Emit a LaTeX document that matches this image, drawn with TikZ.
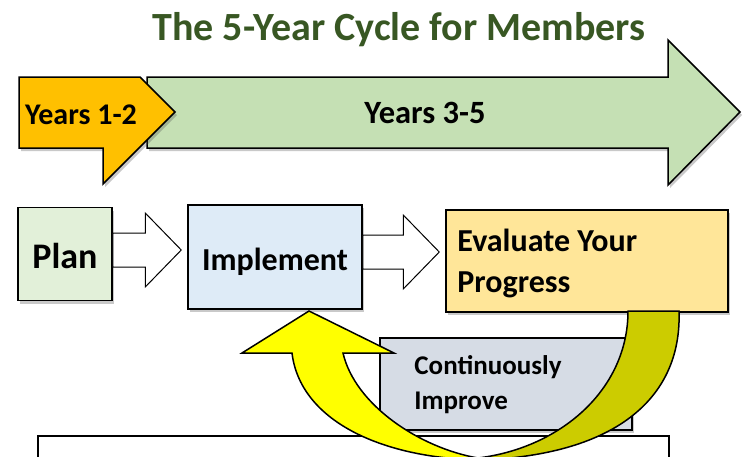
\documentclass[tikz,border=0pt]{standalone}
\usepackage{fontspec}
\setmainfont{Carlito}
\usepackage{tikz}
\usetikzlibrary{calc}
\usetikzlibrary{positioning,shadows}

\definecolor{titlegreen}{RGB}{56,87,35}
\definecolor{goldarrow}{RGB}{255,192,0}
\definecolor{greenarrow}{RGB}{197,224,180}
\definecolor{planfill}{RGB}{226,240,217}
\definecolor{implfill}{RGB}{222,235,247}
\definecolor{evalfill}{RGB}{255,230,153}
\definecolor{improvefill}{RGB}{214,220,229}
\definecolor{loopyellow}{RGB}{255,255,0}
\definecolor{loopolive}{RGB}{204,204,0}

\tikzset{
  shade box/.style={drop shadow={shadow xshift=2pt, shadow yshift=-3pt, opacity=0.3, fill=black!70}},
  box/.style={draw, line width=1.5pt, inner sep=0pt, shade box},
  hollow/.style={draw, fill=white, line width=1pt, line join=miter},
  words/.style={font=\bfseries\fontsize{#1}{#1}\selectfont, inner sep=0pt}
}

\begin{document}
\begin{tikzpicture}[x=1pt, y=-1pt]
            \useasboundingbox (0,0) rectangle (749,456);

            \node[words=40, text=titlegreen, anchor=base] (title) at (399,40) {The 5-Year Cycle for Members};

            % year arrows
            \draw[line width=1.5pt, fill=greenarrow, shade box] (147,77) -- (668,77) -- (668,40) -- (740,112) -- (668,185) -- (668,148) -- (147,148) -- cycle;
            \draw[line width=1.5pt, fill=goldarrow, shade box] (19,77) -- (140,77) -- (175,112) -- (103,184) -- (103,148) -- (19,148) -- cycle;
            \node[words=30, anchor=base west] (yearsA) at (25,124) {Years 1-2};
            \node[words=32.5, anchor=base] (yearsB) at (425,123) {Years 3-5};

            % the three steps
            \draw (65,254) node[box, fill=planfill, minimum width=94pt, minimum height=93pt] (plan) {};
            \draw (275,257) node[box, fill=implfill, minimum width=174pt, minimum height=104pt] (impl) {};
            \draw (587,261) node[box, fill=evalfill, minimum width=282pt, minimum height=102pt] (eval) {};
            \node[words=36, anchor=base] (planText) at (plan.center |- 0,268) {Plan};
            \node[words=32, anchor=base] (implText) at (impl.center |- 0,270) {Implement};
            \node[words=32, anchor=base west] (evalTextA) at ($(eval.north west)+(12,42)$) {Evaluate Your};
            \node[words=32, anchor=base west] (evalTextB) at ($(eval.north west)+(12,83)$) {Progress};

            \foreach \a/\b/\y in {plan/impl/250, impl/eval/252} {
              \draw[hollow] (\a.east |- 0,\y-17) -- ($(\b.west |- 0,\y)+(-42,-17)$) -- ($(\b.west |- 0,\y)+(-42,-37)$)
                -- ($(\b.west |- 0,\y)+(-6,0)$) -- ($(\b.west |- 0,\y)+(-42,37)$) -- ($(\b.west |- 0,\y)+(-42,17)$)
                -- (\a.east |- 0,\y+17) -- cycle;
            }

            % improve loop
            \draw[line width=1.2pt] (38,436) rectangle (669,470);
            \draw (506,384) node[box, fill=improvefill, minimum width=252pt, minimum height=92pt] (improve) {};
            \node[words=27, anchor=base west] (improveTextA) at ($(improve.north west)+(35,37)$) {Continuously};
            \node[words=27, anchor=base west] (improveTextB) at ($(improve.north west)+(35,72)$) {Improve};

            \draw[line width=1.5pt, fill=loopolive] (628,311) .. controls (628,390) and (560,448) .. (478,458)
                -- (480,460) .. controls (620,455) and (682,395) .. (679,311) -- cycle;
            \draw[line width=1.5pt, fill=loopyellow, line join=miter] (480,460) .. controls (380,458) and (300,420) .. (292,353)
                -- (242,353) -- (309,311) -- (394,353) -- (343,353)
                .. controls (355,405) and (420,448) .. (478,458) -- cycle;

            \end{tikzpicture}
\end{document}
